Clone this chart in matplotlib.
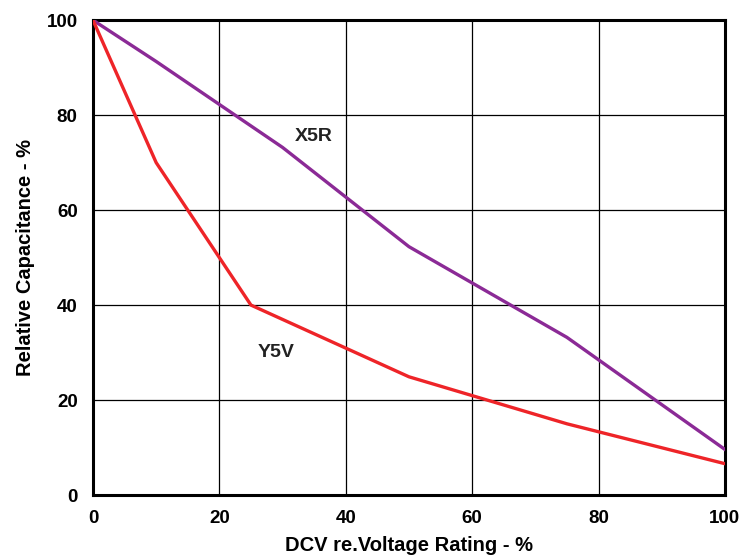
import matplotlib
matplotlib.use('Agg')
import matplotlib.pyplot as plt

# Значения
voltage_x5r = [0, 10, 30, 50, 75, 100]
cap_x5r = [100, 91.3, 73.2, 52.3, 33.2, 9.6]
voltage_y5v = [0, 10, 25, 50, 75, 100]
cap_y5v = [100, 70, 40, 24.9, 15, 6.6]

plt.rcParams['font.family'] = ['Liberation Sans', 'DejaVu Sans']

fig = plt.figure(figsize=(7.42, 5.6), dpi=100)
ax = fig.add_axes([0.1253, 0.116, 0.8517, 0.848])

ax.plot(voltage_x5r, cap_x5r, color='#8B2A96', linewidth=2.4, zorder=3)
ax.plot(voltage_y5v, cap_y5v, color='#EE2428', linewidth=2.4, zorder=3)

ax.text(35, 75.5, 'X5R', fontsize=14, fontweight='bold', color='#222222',
        ha='center', va='center')
ax.text(29, 30, 'Y5V', fontsize=14, fontweight='bold', color='#222222',
        ha='center', va='center')

ax.set_xlim(0, 100)
ax.set_ylim(0, 100)
ax.set_xticks([0, 20, 40, 60, 80, 100])
ax.set_yticks([0, 20, 40, 60, 80, 100])
ax.tick_params(length=0, labelsize=13.5, pad=11)
for lbl in ax.get_xticklabels() + ax.get_yticklabels():
    lbl.set_fontweight('bold')
ax.grid(True, color='black', linewidth=0.9)
for sp in ax.spines.values():
    sp.set_linewidth(2.2)

ax.set_xlabel('DCV re.Voltage Rating - %', fontsize=14.5, fontweight='bold',
              labelpad=6)
ax.set_ylabel('Relative Capacitance - %', fontsize=14.5, fontweight='bold',
              labelpad=8)

fig.savefig('out.png', dpi=100)
